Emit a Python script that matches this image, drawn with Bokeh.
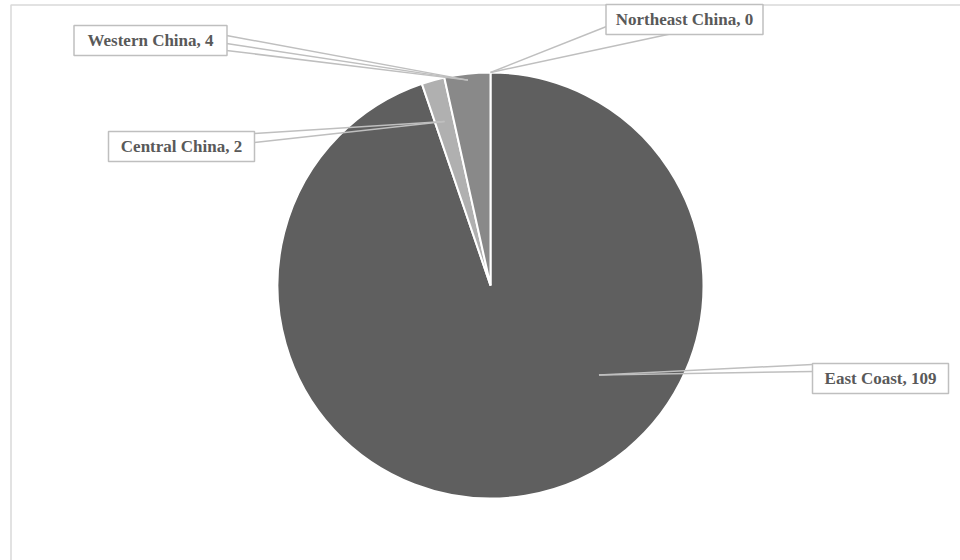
import math
from bokeh.plotting import figure
from bokeh.models import ColumnDataSource, Range1d
from bokeh.core.properties import value
from bokeh.embed import file_html
from bokeh.resources import INLINE

# ---- data ----
regions = ["East Coast", "Central China", "Western China", "Northeast China"]
counts = [109, 2, 4, 0]
colors = ["#5f5f5f", "#b0b0b0", "#898989", "#d0d0d0"]

# ---- layout (pixel-like coordinates, y measured from top) ----
W, H = 960, 560
CX, CY, R = 490, 285, 213
# label box centres and sizes
box_cx = {"East Coast": 880, "Central China": 181, "Western China": 150, "Northeast China": 684}
box_cy = {"East Coast": 378, "Central China": 146, "Western China": 40, "Northeast China": 19}
box_w = {"East Coast": 136, "Central China": 146, "Western China": 153, "Northeast China": 157}
box_h = 30
# leader tip: (angle override in degrees, or None for slice mid) and radius fraction
tip_angle = {"East Coast": 129.5, "Central China": None, "Western China": None, "Northeast China": None}
tip_frac = {"East Coast": 0.66, "Central China": 0.80, "Western China": 0.97, "Northeast China": 1.0}
# where leader lines meet the box (pixel coords)
base_pts = {
    "East Coast": [(812, 364), (812, 371)],
    "Central China": [(254, 133), (254, 142)],
    "Western China": [(226, 35), (226, 43), (226, 50)],
    "Northeast China": [(606, 26), (672, 33)],
}


def Y(py):
    return H - py


total = sum(counts)
p = figure(width=W, height=H, output_backend="svg", toolbar_location=None,
           x_axis_type=None, y_axis_type=None, min_border=0,
           x_range=Range1d(0, W), y_range=Range1d(0, H))
p.outline_line_color = None
p.background_fill_color = "white"
p.border_fill_color = "white"
p.xgrid.visible = False
p.ygrid.visible = False

# chart border (extends beyond the window)
p.quad(left=[10.5], right=[1100], top=[Y(4.5)], bottom=[Y(700)],
       fill_color=None, line_color="#d9d9d9", line_width=1.5)

# slices: start at 12 o'clock, clockwise
starts, ends, mids = [], [], []
cum = 0.0
for c in counts:
    a0 = cum / total * 360.0
    cum += c
    a1 = cum / total * 360.0
    starts.append(math.radians(90 - a0))
    ends.append(math.radians(90 - a1))
    mids.append((a0 + a1) / 2.0)

keep = [i for i, c in enumerate(counts) if c > 0]
src = ColumnDataSource(dict(x=[CX] * len(keep), y=[Y(CY)] * len(keep),
                            start=[starts[i] for i in keep],
                            end=[ends[i] for i in keep],
                            color=[colors[i] for i in keep],
                            name=[regions[i] for i in keep]))
p.wedge(x="x", y="y", radius=R, start_angle="start", end_angle="end",
        direction="clock", fill_color="color", line_color="white",
        line_width=2, source=src)

# leader lines
xs, ys = [], []
for i, r in enumerate(regions):
    ang = tip_angle[r] if tip_angle[r] is not None else mids[i]
    rad = math.radians(ang)
    tx = CX + R * tip_frac[r] * math.sin(rad)
    ty = CY - R * tip_frac[r] * math.cos(rad)
    for (bx, by) in base_pts[r]:
        xs.append([tx, bx])
        ys.append([Y(ty), Y(by)])
p.multi_line(xs=xs, ys=ys, line_color="#bfbfbf", line_width=1.5)

# label boxes
lefts = [box_cx[r] - box_w[r] / 2 for r in regions]
rights = [box_cx[r] + box_w[r] / 2 for r in regions]
tops = [Y(box_cy[r] - box_h / 2) for r in regions]
bottoms = [Y(box_cy[r] + box_h / 2) for r in regions]
p.quad(left=lefts, right=rights, top=tops, bottom=bottoms,
       fill_color="white", line_color="#bfbfbf", line_width=1.5)

labels = [f"{r}, {c}" for r, c in zip(regions, counts)]
p.text(x=[box_cx[r] for r in regions], y=[Y(box_cy[r]) for r in regions],
       text=labels, text_align="center", text_baseline="middle",
       text_font=value("Liberation Serif"), text_font_style="bold",
       text_font_size="17px", text_color="#595959")

open("out.html", "w").write(file_html(p, INLINE))
